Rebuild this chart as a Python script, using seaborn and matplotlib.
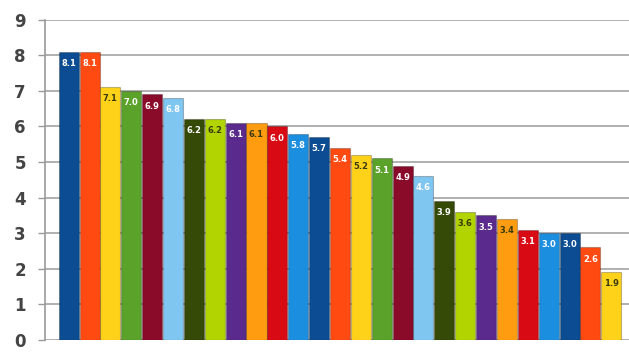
import numpy as np
import pandas as pd
import matplotlib
matplotlib.use("Agg")
import matplotlib.pyplot as plt
import seaborn as sns

# values, left to right
values = [8.1, 8.1, 7.1, 7.0, 6.9, 6.8, 6.2, 6.2, 6.1, 6.1, 6.0, 5.8, 5.7,
          5.4, 5.2, 5.1, 4.9, 4.6, 3.9, 3.6, 3.5, 3.4, 3.1, 3.0, 3.0, 2.6, 1.9]
labels = [f"b{i + 1}" for i in range(len(values))]

# 12 colour cycle used by the bars
cycle = ["#0b4c92", "#ff4a12", "#ffd21a", "#5aa22a", "#8a0a2a", "#7fc6f0",
         "#344a06", "#b2d400", "#5a2a8c", "#ff9c10", "#d80a14", "#1c8ee0"]
dark_text = {"#ffd21a", "#b2d400", "#ff9c10"}
colors = [cycle[i % len(cycle)] for i in range(len(values))]

df = pd.DataFrame({"label": labels, "value": values})

sns.set_style("white")
fig = plt.figure(figsize=(6.29, 3.54), dpi=100)
ax = fig.add_axes([0.072, 0.04, 0.928, 0.904])

sns.barplot(data=df, x="label", y="value", hue="label", palette=colors,
            legend=False, width=0.96, saturation=1, ax=ax, zorder=3)

for patch, c in zip(ax.patches, colors):
    patch.set_edgecolor(matplotlib.colors.to_rgba("black", 0.25))
    patch.set_linewidth(0.8)

# value labels at the top of each bar
for i, (v, c) in enumerate(zip(values, colors)):
    tc = "#3a3a10" if c in dark_text else "white"
    ax.text(i, v - 0.2, f"{v:.1f}", ha="center", va="top", fontsize=6,
            fontweight="bold", color=tc, zorder=4)

ax.set_ylim(0, 9)
ax.set_xlim(-1.12, 26.85)
ax.set_yticks(range(0, 10))
ax.set_xticks([])
ax.set_xlabel("")
ax.set_ylabel("")
ax.yaxis.grid(True, color="#b0b0b0", linewidth=1.4, zorder=0)
ax.tick_params(axis="y", left=True, length=5, width=1, color="#999999",
               labelsize=12, labelcolor="#444444", pad=9)
for t in ax.get_yticklabels():
    t.set_fontweight("bold")
for s in ["top", "right", "bottom"]:
    ax.spines[s].set_visible(False)
ax.spines["left"].set_color("#999999")
ax.spines["left"].set_linewidth(1.2)

fig.savefig("out.png", dpi=100)
